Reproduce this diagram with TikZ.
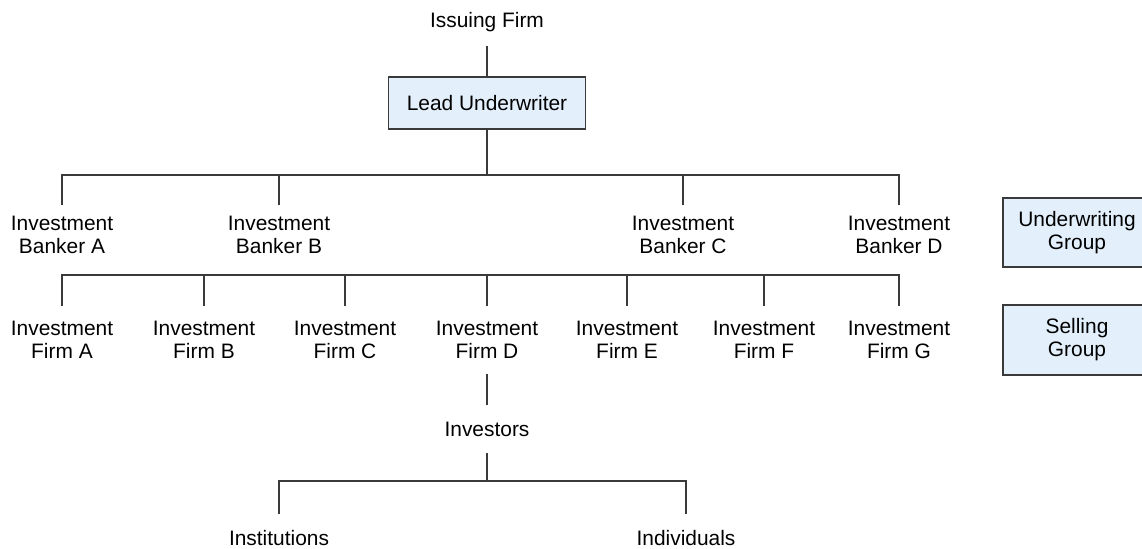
\documentclass[tikz,border=0pt]{standalone}
\usepackage{fontspec}
\setmainfont{Liberation Sans}
\usetikzlibrary{positioning}
\definecolor{boxfill}{HTML}{E3F0FB}
\definecolor{linegray}{HTML}{3A3A3A}

\begin{document}
\begin{tikzpicture}[
  label/.style={font=\fontsize{11.9}{13.1}\selectfont, align=center, inner sep=0pt, text=black},
  onerow/.style={label, minimum height=0.96cm},
  banker/.style={label, minimum height=1.2cm},
  firm/.style={label, minimum height=1.34cm},
  groupbox/.style={label, draw=linegray, fill=boxfill, line width=0.6pt},
  link/.style={linegray, line width=0.7pt}
]
  \clip (0,0) rectangle (22.84,-10.96);

  % Issuer and lead underwriter
  \node[onerow] (issuer) at (9.74,-0.44) {Issuing Firm};
  \node[groupbox, minimum width=3.94cm, minimum height=1.04cm] (lead) at (9.74,-2.06) {Lead Underwriter};
  \draw[link] (issuer.south) -- (lead.north);

  % Underwriting group
  \node[banker] (bankA) at (1.24,-4.7) {Investment\\Banker A};
  \node[banker] (bankB) at (5.58,-4.7) {Investment\\Banker B};
  \node[banker] (bankC) at (13.66,-4.7) {Investment\\Banker C};
  \node[banker] (bankD) at (17.98,-4.7) {Investment\\Banker D};

  \coordinate (topbar) at (9.74,-3.5);
  \draw[link] (lead.south) -- (topbar);
  \foreach \b in {bankA,bankB,bankC,bankD} {
    \draw[link] (topbar) -| (\b.north);
  }

  % Selling group
  \node[firm] (firmA) at (1.24,-6.8) {Investment\\Firm A};
  \node[firm] (firmB) at (4.08,-6.8) {Investment\\Firm B};
  \node[firm] (firmC) at (6.9,-6.8) {Investment\\Firm C};
  \node[firm] (firmD) at (9.74,-6.8) {Investment\\Firm D};
  \node[firm] (firmE) at (12.54,-6.8) {Investment\\Firm E};
  \node[firm] (firmF) at (15.28,-6.8) {Investment\\Firm F};
  \node[firm] (firmG) at (17.98,-6.8) {Investment\\Firm G};

  \coordinate (midbar) at (9.74,-5.5);
  \foreach \f in {firmA,firmB,firmC,firmD,firmE,firmF,firmG} {
    \draw[link] (midbar) -| (\f.north);
  }

  % Investors
  \node[onerow] (investors) at (9.74,-8.58) {Investors};
  \node[onerow] (inst) at (5.58,-10.76) {Institutions};
  \node[onerow] (indiv) at (13.72,-10.76) {Individuals};
  \draw[link] (firmD.south) -- (investors.north);

  \coordinate (lowbar) at (9.74,-9.62);
  \draw[link] (investors.south) -- (lowbar);
  \foreach \i in {inst,indiv} {
    \draw[link] (lowbar) -| (\i.north);
  }

  % Group labels on the right
  \node[groupbox, minimum width=2.96cm, minimum height=1.38cm] (uwgroup) at (21.54,-4.65) {Underwriting\\Group};
  \node[groupbox, minimum width=2.96cm, minimum height=1.4cm] (sellgroup) at (21.54,-6.8) {Selling\\Group};
\end{tikzpicture}
\end{document}
